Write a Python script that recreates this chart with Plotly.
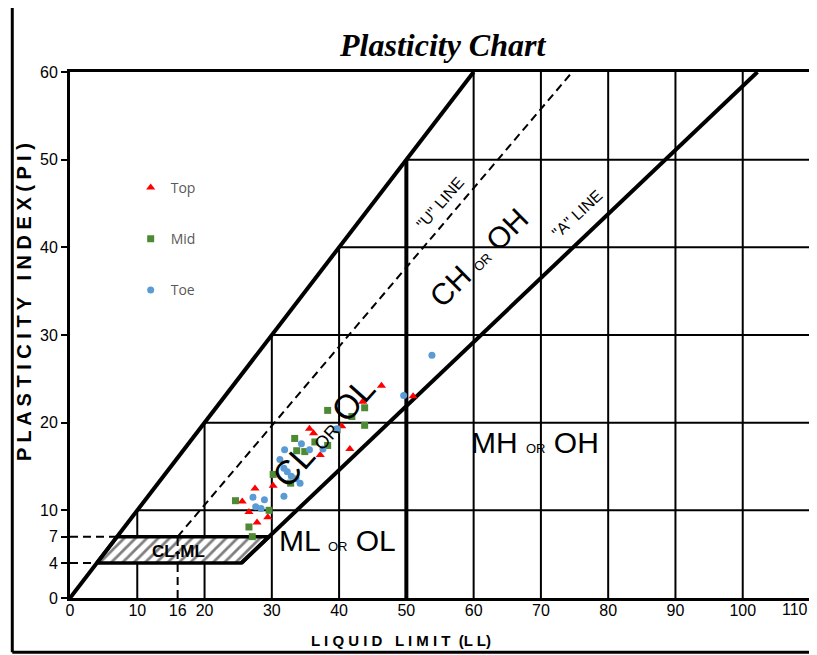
import plotly.graph_objects as go

# ---------------- data ----------------
top_ll = [46.3, 43.5, 51.0, 35.6, 36.2, 37.2, 41.6, 40.4, 30.2, 27.5, 25.6, 26.6, 27.8, 29.4]
top_pi = [24.2, 22.4, 23.0, 19.3, 18.8, 16.3, 17.0, 19.6, 12.8, 12.5, 11.0, 9.8, 8.6, 9.2]

mid_ll = [38.3, 43.8, 41.9, 43.8, 39.7, 33.4, 36.4, 38.3, 33.7, 34.9, 30.2, 32.8, 24.6, 29.6, 26.6, 27.1]
mid_pi = [21.4, 21.7, 20.7, 19.7, 19.2, 18.2, 17.8, 17.4, 16.8, 16.7, 14.1, 13.1, 11.1, 10.0, 8.1, 7.0]

toe_ll = [53.8, 49.6, 39.7, 34.4, 35.6, 37.6, 31.9, 31.2, 31.8, 32.3, 32.9, 33.6, 34.2, 31.8, 27.2, 28.9, 27.6, 28.4]
toe_pi = [27.7, 23.1, 19.3, 17.6, 16.9, 17.0, 16.9, 15.8, 14.8, 14.4, 13.9, 13.6, 13.1, 11.6, 11.5, 11.2, 10.4, 10.2]

x_ticks = [0, 10, 16, 20, 30, 40, 50, 60, 70, 80, 90, 100, 110]
y_ticks = [0, 4, 7, 10, 20, 30, 40, 50, 60]

LL_MAX = 110
PI_MAX = 60
A_SLOPE, A_OFF = 0.73, 20   # A-line: PI = 0.73 (LL - 20)
U_SLOPE, U_OFF = 0.9, 8     # U-line: PI = 0.9 (LL - 8)
BAND_LO, BAND_HI = 4, 7     # CL-ML band
LL_SPLIT = 50
U_START_LL = 16

def a_ll(pi):
    return pi / A_SLOPE + A_OFF

def u_ll(pi):
    return pi / U_SLOPE + U_OFF

fig = go.Figure()

# ---------------- grid (bounded by PI = LL line) ----------------
gx, gy = [], []
for v in x_ticks:
    if v in (0, U_START_LL, LL_SPLIT, LL_MAX):
        continue
    top = min(v, PI_MAX)
    gx += [v, v, None]
    gy += [0, top, None]
for h in y_ticks:
    if h in (0, BAND_LO, BAND_HI, PI_MAX):
        continue
    gx += [h, LL_MAX, None]
    gy += [h, h, None]
fig.add_trace(go.Scatter(x=gx, y=gy, mode="lines", line=dict(color="black", width=2),
                         hoverinfo="skip", showlegend=False))

# CL-ML hatched band
fig.add_trace(go.Scatter(
    x=[BAND_LO, a_ll(BAND_LO), a_ll(BAND_HI), BAND_HI, BAND_LO],
    y=[BAND_LO, BAND_LO, BAND_HI, BAND_HI, BAND_LO],
    mode="lines", fill="toself", fillcolor="rgba(0,0,0,0)",
    fillpattern=dict(shape="/", fgcolor="black", bgcolor="white", size=8, solidity=0.35),
    line=dict(color="black", width=3.5), hoverinfo="skip", showlegend=False))

# dashed guides
dx = [0, BAND_LO, None, 0, BAND_HI, None, U_START_LL, U_START_LL, None, U_START_LL, u_ll(PI_MAX)]
dy = [BAND_LO, BAND_LO, None, BAND_HI, BAND_HI, None, 0, BAND_HI, None, BAND_HI, PI_MAX]
fig.add_trace(go.Scatter(x=dx, y=dy, mode="lines", line=dict(color="black", width=2, dash="8px,5px"),
                         hoverinfo="skip", showlegend=False))

# thick lines: upper limit PI = LL, A-line, LL = 50
tx = [0, PI_MAX, None, a_ll(BAND_LO), a_ll(PI_MAX), None, LL_SPLIT, LL_SPLIT]
ty = [0, PI_MAX, None, BAND_LO, PI_MAX, None, 0, LL_SPLIT]
fig.add_trace(go.Scatter(x=tx, y=ty, mode="lines", line=dict(color="black", width=4),
                         hoverinfo="skip", showlegend=False))

# ---------------- data series ----------------
fig.add_trace(go.Scatter(x=top_ll, y=top_pi, mode="markers", name="Top", legendgroup="a",
                         marker=dict(symbol="triangle-up", size=8, color="#FF0000")))
fig.add_trace(go.Scatter(x=mid_ll, y=mid_pi, mode="markers", name="Mid", legendgroup="b",
                         marker=dict(symbol="square", size=7, color="#4E8A33")))
fig.add_trace(go.Scatter(x=toe_ll, y=toe_pi, mode="markers", name="Toe", legendgroup="c",
                         marker=dict(symbol="circle", size=7, color="#5B9BD5")))

# ---------------- labels ----------------
F = "Liberation Sans"
small = "<span style='font-size:13px'>OR</span>"
mid_or = "<span style='font-size:18px'>OR</span>"
ann = [
    dict(x=39.7, y=6.6, text="ML " + small + " OL", size=30, angle=0),
    dict(x=69.1, y=17.7, text="MH " + small + " OH", size=30, angle=0),
    dict(x=60.8, y=38.8, text="CH " + small + " OH", size=30, angle=-45),
    dict(x=37.7, y=18.9, text="CL " + mid_or + " OL", size=34, angle=-48),
    dict(x=55.0, y=45.0, text="\"U\" LINE", size=16, angle=-49),
    dict(x=75.3, y=43.8, text="\"A\" LINE", size=16, angle=-43),
]
for a in ann:
    fig.add_annotation(x=a["x"], y=a["y"], xref="x", yref="y", text=a["text"], showarrow=False,
                       textangle=a["angle"], xanchor="center", yanchor="middle",
                       font=dict(family=F, size=a["size"], color="black"))
fig.add_annotation(x=16.1, y=5.3, xref="x", yref="y", text="<b>CL-ML</b>", showarrow=False,
                   xanchor="center", yanchor="middle",
                   font=dict(family=F, size=17, color="black"))

# last x tick label kept inside the page edge
x_text = [str(v) if v != LL_MAX else "" for v in x_ticks]
fig.add_annotation(x=LL_MAX, y=-0.021, xref="x", yref="paper", text=str(LL_MAX), showarrow=False,
                   xanchor="right", yanchor="middle", xshift=0,
                   font=dict(family=F, size=16, color="black"))

fig.add_annotation(x=0.503, y=1.052, xref="paper", yref="paper",
                   text="<b><i>Plasticity Chart</i></b>", showarrow=False,
                   xanchor="center", yanchor="middle",
                   font=dict(family="Liberation Serif", size=32, color="black"))
fig.add_annotation(x=-0.062, y=0.563, xref="paper", yref="paper",
                   text="<b>P L A S T I C I T Y   I N D E X ( P I )</b>", showarrow=False,
                   textangle=-90, xanchor="center", yanchor="middle",
                   font=dict(family=F, size=20, color="black"))
fig.add_annotation(x=0.447, y=-0.08, xref="paper", yref="paper",
                   text="<b>L I Q U I D   L I M I T  (L L)</b>", showarrow=False,
                   xanchor="center", yanchor="middle",
                   font=dict(family=F, size=15, color="black"))

# outer frame (left + bottom)
fig.add_shape(type="line", xref="paper", yref="paper", x0=-0.078, x1=-0.078, y0=-0.103, y1=1.2,
              line=dict(color="black", width=3))
fig.add_shape(type="line", xref="paper", yref="paper", x0=-0.078, x1=1.1, y0=-0.103, y1=-0.103,
              line=dict(color="black", width=3))

# page body has an 8px margin; size the figure so the plot area lands where the reference has it
fig.update_layout(
    width=809, height=647,
    margin=dict(l=62, r=7, t=64, b=57, autoexpand=False),
    paper_bgcolor="white", plot_bgcolor="white",
    showlegend=True,
    legend=dict(x=0.082, y=0.81, xanchor="left", yanchor="top", bgcolor="rgba(0,0,0,0)",
                tracegroupgap=30, font=dict(family="Open Sans", size=14, color="#595959")),
    xaxis=dict(range=[0, LL_MAX], tickvals=x_ticks, ticktext=x_text, showgrid=False, zeroline=False,
               showline=True, mirror=True, linecolor="black", linewidth=3, ticks="",
               ticklabelstandoff=-4, automargin=False,
               tickfont=dict(family=F, size=16, color="black")),
    yaxis=dict(range=[0, PI_MAX], tickvals=y_ticks, showgrid=False, zeroline=False,
               showline=True, mirror=True, linecolor="black", linewidth=3, ticks="outside",
               ticklen=6, tickwidth=2, tickcolor="black", automargin=False,
               tickfont=dict(family=F, size=16, color="black")),
)

fig.write_html("out.html")
